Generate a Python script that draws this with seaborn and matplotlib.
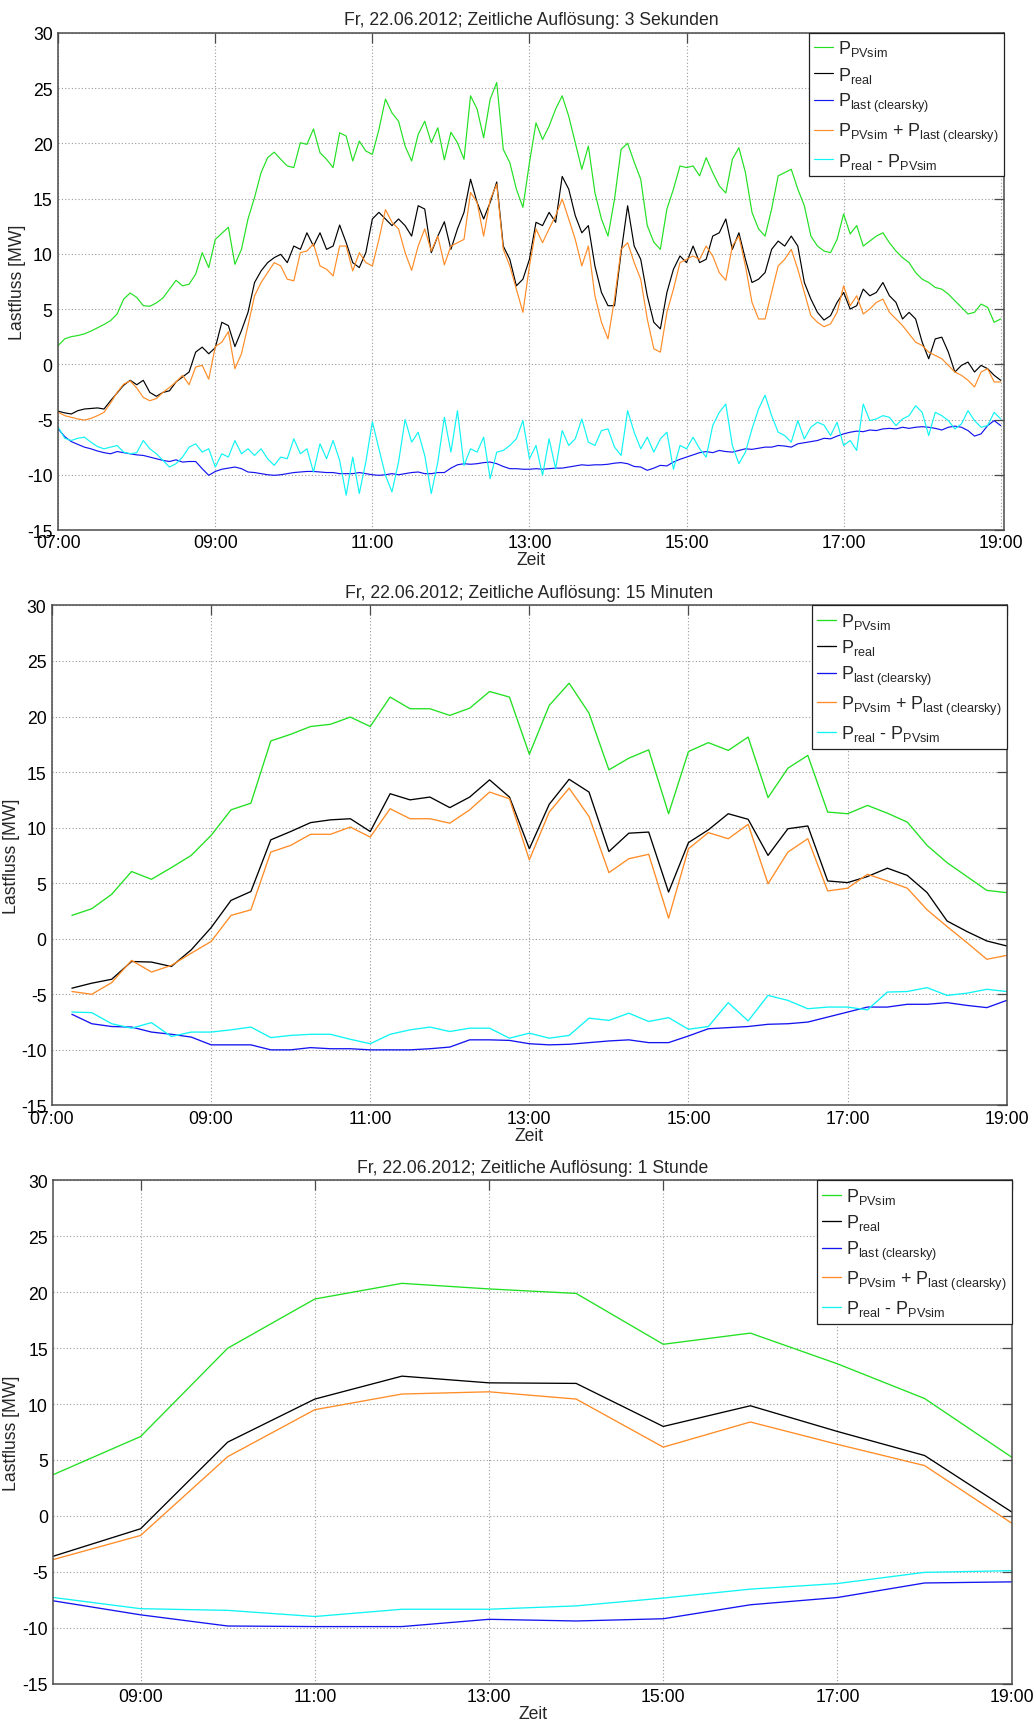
import numpy as np
import pandas as pd
import matplotlib
matplotlib.use("Agg")
import matplotlib.pyplot as plt
import seaborn as sns

# ---------------- data ----------------
TITLE_DATE = "Fr, 22.06.2012; Zeitliche Auflösung: "
RESOLUTIONS = ["3 Sekunden", "15 Minuten", "1 Stunde"]

SERIES = [
    r"$\mathregular{P_{PVsim}}$",
    r"$\mathregular{P_{real}}$",
    r"$\mathregular{P_{last\ (clearsky)}}$",
    r"$\mathregular{P_{PVsim}}$ + $\mathregular{P_{last\ (clearsky)}}$",
    r"$\mathregular{P_{real}}$ - $\mathregular{P_{PVsim}}$",
]
COLORS = ["#22e022", "#000000", "#1414f0", "#ff8c26", "#10f4f4"]

# Panel 1 (read at 5-minute steps, 07:00 ... 19:00)
pv_3s = [1.7, 2.3, 2.5, 2.6, 2.75, 3.0, 3.3, 3.6, 3.95, 4.55, 5.9, 6.45,
         6.05, 5.3, 5.25, 5.55, 6.0, 6.8, 7.6, 7.1, 7.25, 8.15, 10.1, 8.75,
         11.3, 11.85, 12.4, 9.05, 10.4, 13.15, 15.1, 17.35, 18.7, 19.2, 18.55, 17.95,
         17.8, 20.05, 19.9, 21.3, 19.15, 18.55, 17.8, 20.95, 20.65, 18.4, 20.2, 19.3,
         19.0, 21.25, 24.0, 22.75, 22.0, 19.75, 18.4, 20.8, 22.0, 20.05, 21.4, 18.5,
         21.0, 20.05, 18.55, 24.3, 23.1, 20.5, 24.0, 25.5, 19.45, 18.25, 15.85, 14.2,
         18.25, 21.85, 20.35, 21.55, 23.1, 24.3, 22.45, 20.05, 17.65, 19.75, 15.55, 13.15,
         11.6, 14.95, 19.45, 20.0, 18.3, 16.75, 12.55, 11.05, 10.4, 14.05, 15.85, 17.95,
         17.8, 17.95, 17.05, 18.7, 17.35, 16.15, 15.5, 18.55, 19.6, 17.35, 13.75, 12.25,
         11.6, 14.05, 17.05, 17.35, 17.65, 15.85, 14.35, 11.6, 10.7, 10.25, 10.1, 11.3,
         13.6, 11.8, 12.55, 10.7, 11.15, 11.6, 11.9, 11.0, 10.25, 9.65, 9.2, 8.3,
         7.7, 7.4, 6.95, 6.8, 6.35, 5.75, 5.15, 4.55, 4.7, 5.45, 5.15, 3.8,
         4.1]
real_3s = [-4.25, -4.4, -4.5, -4.2, -4.05, -4.0, -3.95, -4.05, -3.3, -2.6, -1.9, -1.45,
           -1.85, -1.45, -2.55, -2.9, -2.55, -2.4, -1.6, -1.15, -0.7, 1.1, 1.55, 0.95,
           1.5, 3.8, 3.5, 1.6, 3.05, 4.7, 7.4, 8.45, 9.2, 9.65, 9.95, 9.2,
           10.7, 10.4, 11.9, 10.7, 11.9, 10.4, 10.7, 12.6, 11.0, 9.2, 8.75, 10.1,
           13.15, 13.75, 13.15, 12.55, 13.15, 12.55, 11.6, 14.35, 14.05, 10.1, 11.6, 12.9,
           10.4, 12.25, 13.75, 16.75, 14.65, 13.15, 14.65, 16.5, 10.7, 9.5, 7.1, 7.7,
           9.5, 12.85, 12.55, 13.75, 12.85, 17.0, 15.85, 13.45, 11.9, 12.55, 8.9, 6.5,
           5.3, 5.3, 10.1, 14.35, 10.7, 9.5, 6.2, 3.8, 3.2, 6.5, 8.6, 9.8,
           9.2, 10.7, 9.2, 9.5, 11.6, 11.9, 13.15, 10.4, 11.9, 9.5, 7.4, 7.7,
           8.3, 10.4, 11.15, 10.7, 11.6, 10.7, 7.4, 5.9, 4.7, 4.0, 4.4, 5.6,
           6.5, 5.0, 5.3, 6.8, 6.2, 6.5, 7.4, 6.2, 5.6, 4.1, 4.7, 4.1,
           2.0, 0.5, 2.3, 2.45, 1.1, -0.7, -0.1, 0.2, -0.7, -0.1, -0.4, -1.0,
           -1.45]
last_3s = [-5.85, -6.55, -7.0, -7.25, -7.5, -7.65, -7.85, -8.0, -8.1, -7.9, -8.0, -8.1,
           -8.2, -8.25, -8.4, -8.55, -8.7, -8.8, -8.65, -8.85, -8.8, -8.8, -9.45, -10.05,
           -9.7, -9.5, -9.4, -9.3, -9.45, -9.75, -9.8, -9.9, -10.0, -10.05, -10.0, -9.9,
           -9.8, -9.75, -9.7, -9.7, -9.75, -9.8, -9.8, -9.9, -9.9, -9.9, -9.8, -9.9,
           -10.0, -10.05, -10.0, -9.9, -10.0, -9.9, -9.8, -9.75, -9.9, -9.9, -9.8, -9.8,
           -9.4, -9.1, -9.0, -9.05, -9.0, -8.9, -8.85, -9.0, -9.25, -9.45, -9.45, -9.5,
           -9.5, -9.45, -9.5, -9.45, -9.4, -9.4, -9.3, -9.2, -9.1, -9.15, -9.1, -9.1,
           -9.05, -8.95, -8.9, -9.0, -9.25, -9.3, -9.6, -9.4, -9.15, -9.2, -8.85, -8.6,
           -8.4, -8.2, -8.0, -7.9, -8.0, -7.8, -7.9, -7.95, -7.8, -7.65, -7.7, -7.6,
           -7.5, -7.5, -7.35, -7.4, -7.5, -7.2, -7.1, -7.0, -6.9, -6.7, -6.75, -6.5,
           -6.3, -6.15, -6.05, -6.1, -5.95, -6.0, -5.85, -5.8, -5.85, -5.7, -5.8, -5.7,
           -5.65, -5.7, -5.8, -5.95, -5.7, -5.6, -5.7, -6.0, -6.5, -6.3, -5.55, -5.1,
           -5.55]
sum_3s = [-4.35, -4.65, -4.8, -4.95, -5.05, -4.9, -4.65, -4.35, -3.5, -2.55, -1.8, -1.5,
          -2.15, -3.0, -3.3, -3.1, -2.55, -2.1, -1.6, -1.0, -1.85, -0.25, -0.1, -1.35,
          1.6, 2.0, 2.95, -0.4, 0.95, 3.5, 6.2, 7.4, 8.3, 9.2, 8.9, 7.7,
          7.55, 10.1, 10.25, 10.9, 8.9, 8.6, 8.0, 10.7, 10.7, 8.45, 10.1, 9.2,
          8.9, 11.3, 14.0, 12.85, 12.25, 10.1, 8.5, 10.7, 12.25, 10.25, 11.6, 9.0,
          10.7, 11.0, 11.3, 15.55, 14.65, 11.6, 14.9, 16.3, 10.4, 8.9, 6.8, 4.7,
          8.9, 12.25, 11.0, 12.25, 13.45, 14.95, 13.15, 11.3, 8.9, 10.7, 6.2, 3.8,
          2.3, 5.9, 10.4, 11.0, 9.2, 7.7, 4.1, 1.4, 1.1, 4.7, 6.8, 9.2,
          9.5, 9.8, 9.5, 10.7, 9.8, 8.3, 7.6, 10.7, 11.6, 8.9, 5.6, 4.1,
          4.1, 6.5, 8.9, 9.5, 10.4, 8.6, 6.5, 4.4, 3.8, 3.4, 3.65, 4.7,
          7.1, 5.3, 6.2, 4.55, 5.0, 5.6, 5.9, 4.7, 4.1, 3.5, 2.75, 2.0,
          1.7, 1.1, 0.8, 0.5, -0.1, -0.7, -1.0, -1.45, -2.05, -0.7, -0.4, -1.6,
          -1.6]
diff_3s = [-5.7, -6.7, -6.9, -6.7, -6.6, -7.05, -7.45, -7.65, -7.5, -7.35, -7.95, -8.1,
           -8.0, -6.9, -7.65, -8.1, -8.7, -9.3, -9.0, -8.4, -7.5, -7.2, -7.95, -7.65,
           -9.3, -8.1, -8.4, -6.9, -8.1, -7.65, -8.25, -7.65, -8.55, -9.15, -8.4, -8.55,
           -6.75, -8.1, -7.65, -9.75, -7.2, -8.55, -6.9, -8.7, -11.85, -8.4, -11.7, -8.85,
           -5.2, -7.65, -10.05, -11.55, -8.85, -5.0, -7.05, -6.15, -8.25, -11.7, -8.85, -4.8,
           -7.95, -4.2, -9.15, -7.65, -7.95, -6.6, -10.35, -7.95, -7.8, -7.35, -6.75, -5.1,
           -8.55, -7.35, -10.05, -6.75, -9.45, -6.0, -7.35, -6.75, -4.95, -7.05, -7.35, -6.0,
           -5.85, -7.5, -8.25, -4.2, -6.15, -7.65, -6.6, -7.95, -6.75, -6.15, -9.5, -7.35,
           -7.65, -6.6, -7.65, -8.4, -5.55, -4.35, -3.6, -7.35, -9.0, -7.95, -5.85, -4.05,
           -2.8, -4.65, -6.15, -6.45, -7.05, -5.1, -6.75, -5.7, -5.25, -5.5, -6.45, -5.25,
           -7.35, -6.9, -7.8, -3.6, -5.1, -4.95, -4.65, -4.8, -5.55, -4.95, -4.65, -3.75,
           -4.35, -6.45, -4.35, -4.65, -5.1, -5.85, -5.4, -4.2, -5.1, -5.7, -5.55, -4.35,
           -4.95]

# Panel 2 (15-minute values, 07:15 ... 19:00)
pv_15 = [2.1, 2.7, 4.0, 6.05, 5.35, 6.4, 7.5, 9.3, 11.6, 12.2, 17.8, 18.4, 19.1, 19.3,
         19.95, 19.1, 21.75, 20.7, 20.7, 20.1, 20.75, 22.25, 21.75, 16.6, 21.0, 23.0,
         20.3, 15.2, 16.25, 17.0, 11.25, 16.85, 17.65, 16.95, 18.15, 12.7, 15.35, 16.5,
         11.4, 11.25, 12.0, 11.3, 10.5, 8.4, 6.85, 5.6, 4.35, 4.15]
real_15 = [-4.45, -4.0, -3.65, -2.05, -2.1, -2.5, -1.0, 1.0, 3.45, 4.25, 8.9, 9.65,
           10.45, 10.7, 10.8, 9.65, 13.05, 12.5, 12.75, 11.8, 12.75, 14.3, 12.75, 8.1,
           12.1, 14.35, 13.2, 7.85, 9.5, 9.6, 4.2, 8.65, 9.8, 11.25, 10.75, 7.5,
           9.9, 10.15, 5.2, 5.05, 5.6, 6.35, 5.7, 4.15, 1.6, 0.65, -0.2, -0.65]
last_15 = [-6.8, -7.65, -7.9, -7.95, -8.4, -8.6, -8.85, -9.55, -9.55, -9.55, -10.0, -10.0,
           -9.8, -9.9, -9.9, -10.0, -10.0, -10.0, -9.9, -9.75, -9.1, -9.1, -9.15, -9.45,
           -9.55, -9.5, -9.35, -9.2, -9.1, -9.35, -9.35, -8.75, -8.1, -8.0, -7.9, -7.7,
           -7.65, -7.5, -7.05, -6.6, -6.15, -6.15, -5.9, -5.9, -5.75, -6.0, -6.2, -5.55]
sum_15 = [-4.75, -5.0, -3.95, -1.95, -3.0, -2.4, -1.3, -0.25, 2.1, 2.6, 7.8, 8.4,
          9.4, 9.4, 10.05, 9.15, 11.7, 10.8, 10.8, 10.4, 11.6, 13.2, 12.6, 7.1,
          11.4, 13.55, 11.0, 5.95, 7.2, 7.6, 1.85, 8.1, 9.55, 9.0, 10.3, 4.95,
          7.8, 9.0, 4.3, 4.55, 5.8, 5.2, 4.55, 2.6, 1.1, -0.35, -1.85, -1.5]
diff_15 = [-6.6, -6.65, -7.65, -8.05, -7.55, -8.8, -8.4, -8.4, -8.2, -7.95, -8.9, -8.7,
           -8.6, -8.6, -9.05, -9.45, -8.6, -8.2, -7.95, -8.35, -8.05, -8.05, -8.95, -8.5,
           -8.95, -8.7, -7.15, -7.35, -6.7, -7.45, -7.1, -8.15, -7.9, -5.75, -7.4, -5.1,
           -5.55, -6.3, -6.15, -6.15, -6.4, -4.8, -4.75, -4.4, -5.1, -4.9, -4.55, -4.75]

# Panel 3 (hourly values, 08:00 ... 19:00)
pv_1h = [3.7, 7.1, 15.0, 19.4, 20.8, 20.3, 19.9, 15.35, 16.35, 13.6, 10.5, 5.25]
real_1h = [-3.6, -1.15, 6.6, 10.45, 12.5, 11.9, 11.85, 8.0, 9.85, 7.55, 5.4, 0.35]
last_1h = [-7.6, -8.85, -9.85, -9.9, -9.9, -9.25, -9.4, -9.2, -7.95, -7.3, -6.0, -5.9]
sum_1h = [-3.9, -1.75, 5.3, 9.5, 10.9, 11.1, 10.45, 6.15, 8.4, 6.4, 4.5, -0.65]
diff_1h = [-7.3, -8.3, -8.45, -9.0, -8.35, -8.35, -8.05, -7.35, -6.55, -6.05, -5.05, -4.9]

time_3s = 7.0 + np.arange(len(pv_3s)) * 5.0 / 60.0
time_15 = 7.25 + np.arange(len(pv_15)) * 0.25
time_1h = 8.0 + np.arange(len(pv_1h)) * 1.0

YTICKS = list(range(-15, 31, 5))

# ---------------- style ----------------
sns.set_theme(style="white")
plt.rcParams["font.family"] = ["Liberation Sans", "DejaVu Sans"]
plt.rcParams["axes.unicode_minus"] = False
plt.rcParams["mathtext.fontset"] = "custom"
plt.rcParams["mathtext.rm"] = "Liberation Sans"
plt.rcParams["mathtext.it"] = "Liberation Sans:italic"
plt.rcParams["mathtext.bf"] = "Liberation Sans:bold"

FS = 12.7
SPINE = "#4a4a4a"

fig = plt.figure(figsize=(10.33, 17.31), dpi=100)

panels = [
    dict(rect=[0.05634, 0.69324, 0.91559, 0.28723], t=time_3s,
         data=[pv_3s, real_3s, last_3s, sum_3s, diff_3s], xlim=(7.0, 19.042),
         xticks=[7, 9, 11, 13, 15, 17, 19], lw=0.85, ylab_x=-0.034),
    dict(rect=[0.05034, 0.36083, 0.92420, 0.28885], t=time_15,
         data=[pv_15, real_15, last_15, sum_15, diff_15], xlim=(7.0, 19.0),
         xticks=[7, 9, 11, 13, 15, 17, 19], lw=0.95, ylab_x=-0.0335),
    dict(rect=[0.05179, 0.02681, 0.92759, 0.29064], t=time_1h,
         data=[pv_1h, real_1h, last_1h, sum_1h, diff_1h], xlim=(8.0, 19.0),
         xticks=[9, 11, 13, 15, 17, 19], lw=0.95, ylab_x=-0.035),
]

for p, res in zip(panels, RESOLUTIONS):
    ax = fig.add_axes(p["rect"])
    frames = []
    for name, vals in zip(SERIES, p["data"]):
        frames.append(pd.DataFrame({"Zeit": p["t"], "Wert": vals, "Serie": name}))
    df = pd.concat(frames, ignore_index=True)
    sns.lineplot(data=df, x="Zeit", y="Wert", hue="Serie", hue_order=SERIES,
                 palette=COLORS, estimator=None, sort=False, linewidth=p["lw"],
                 ax=ax, legend=True)

    ax.set_xlim(*p["xlim"])
    ax.set_ylim(-15, 30)
    ax.set_yticks(YTICKS)
    ax.set_yticklabels([str(v) for v in YTICKS])
    ax.set_xticks(p["xticks"])
    ax.set_xticklabels([f"{h:02d}:00" for h in p["xticks"]])
    ax.grid(True, linestyle=(0, (1, 2)), color="#9a9a9a", linewidth=0.8)
    ax.set_axisbelow(True)
    ax.tick_params(direction="in", top=True, right=True, length=7, width=0.9,
                   color=SPINE, labelsize=FS, labelcolor="black")
    ax.tick_params(axis="x", pad=3)
    ax.tick_params(axis="y", pad=4)
    for s in ax.spines.values():
        s.set_color(SPINE)
        s.set_linewidth(1.1)
        s.set_visible(True)
    ax.set_xlabel("Zeit", fontsize=FS, labelpad=0)
    ax.set_ylabel("Lastfluss [MW]", fontsize=FS)
    ax.yaxis.set_label_coords(p["ylab_x"], 0.5)
    ax.set_title(TITLE_DATE + res, fontsize=FS, pad=6)

    handles, labels = ax.get_legend_handles_labels()
    leg = ax.legend(handles, labels, loc="upper right", bbox_to_anchor=(1, 1),
                    borderaxespad=0, frameon=True, fancybox=False, framealpha=1,
                    edgecolor="#222222", fontsize=13, handlelength=1.05,
                    handletextpad=0.25, labelspacing=0.36, borderpad=0.3)
    leg.get_frame().set_linewidth(0.9)

fig.savefig("out.png", dpi=100)
